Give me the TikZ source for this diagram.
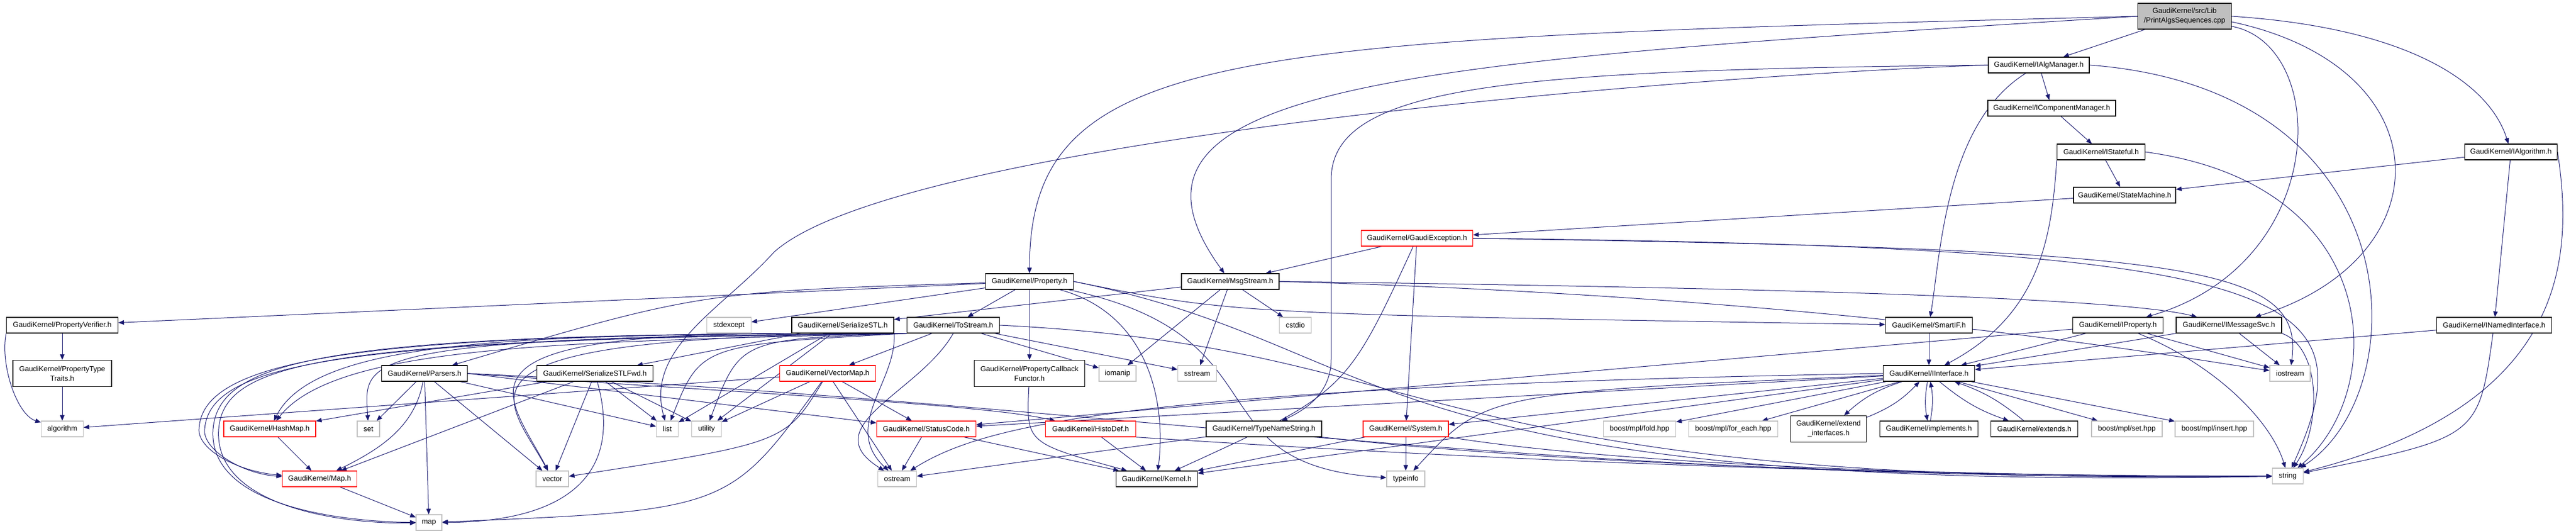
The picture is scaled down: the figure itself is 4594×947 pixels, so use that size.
\documentclass[tikz,border=0pt]{standalone}
\usepackage{fontspec}
\setmainfont{Liberation Sans}
\usepackage{xcolor}
\usepackage{tikz}
\usetikzlibrary{arrows.meta,backgrounds}
\definecolor{depblue}{HTML}{191970}
\definecolor{boxgray}{HTML}{BFBFBF}

\begin{document}
\begin{tikzpicture}[x=0.5pt, y=-0.5pt,
    file/.style={draw=black, fill=white, line width=0.6pt, inner xsep=3pt, inner ysep=1pt, minimum height=14pt, align=center, font=\fontsize{6.5}{8.5}\selectfont},
    sysfile/.style={file, draw=boxgray},
    redfile/.style={file, draw=red},
    dep/.style={draw=depblue, line width=0.5pt, -{Triangle[length=5pt,width=4pt]}}]
    \useasboundingbox (0,0) rectangle (4594,947);

    % Top chain
    \node[file, fill=boxgray, minimum width=83.5pt, minimum height=23pt] (root) at (3896,29) {GaudiKernel/src/Lib\\/PrintAlgsSequences.cpp};
    \node[file, minimum width=90pt] (algmgr) at (3636,116) {GaudiKernel/IAlgManager.h};
    \node[file, minimum width=114pt] (compmgr) at (3659,193) {GaudiKernel/IComponentManager.h};
    \node[file, minimum width=78.5pt] (stateful) at (3747,271) {GaudiKernel/IStateful.h};
    \node[file, minimum width=82.5pt] (ialgo) at (4478,271) {GaudiKernel/IAlgorithm.h};
    \node[file, minimum width=91pt] (statemach) at (3789,348) {GaudiKernel/StateMachine.h};
    \node[redfile, minimum width=99.5pt] (gaudiexc) at (2527,425) {GaudiKernel/GaudiException.h};
    \node[file, minimum width=78.5pt] (property) at (1836,502) {GaudiKernel/Property.h};
    \node[file, minimum width=87pt] (msgstream) at (2194,502) {GaudiKernel/MsgStream.h};

    % Row 1
    \node[file, minimum width=99.5pt] (propverif) at (111,580) {GaudiKernel/PropertyVerifier.h};
    \node[sysfile, minimum width=39.5pt] (stdexcept) at (1300,580) {stdexcept};
    \node[file, minimum width=91pt] (serstl) at (1503,580) {GaudiKernel/SerializeSTL.h};
    \node[file, minimum width=82.5pt] (tostream) at (1700,580) {GaudiKernel/ToStream.h};
    \node[sysfile, minimum width=28.5pt] (cstdio) at (2310,580) {cstdio};
    \node[file, minimum width=77.5pt] (smartif) at (3440,580) {GaudiKernel/SmartIF.h};
    \node[file, minimum width=80.5pt] (iproperty) at (3777,580) {GaudiKernel/IProperty.h};
    \node[file, minimum width=94pt] (imsgsvc) at (3975,580) {GaudiKernel/IMessageSvc.h};
    \node[file, minimum width=102.5pt] (inamed) at (4448,580) {GaudiKernel/INamedInterface.h};

    % Row 2
    \node[file, minimum width=88pt, minimum height=23.5pt] (proptraits) at (111,666) {GaudiKernel/PropertyType\\Traits.h};
    \node[file, minimum width=76.5pt] (parsers) at (757,666) {GaudiKernel/Parsers.h};
    \node[file, minimum width=103.5pt] (serfwd) at (1061,666) {GaudiKernel/SerializeSTLFwd.h};
    \node[redfile, minimum width=85.5pt] (vectormap) at (1476,666) {GaudiKernel/VectorMap.h};
    \node[file, minimum width=98.5pt, minimum height=23.5pt] (propcb) at (1836,666) {GaudiKernel/PropertyCallback\\Functor.h};
    \node[sysfile, minimum width=33pt] (iomanip) at (1993,666) {iomanip};
    \node[sysfile, minimum width=34.5pt] (sstream) at (2135,666) {sstream};
    \node[file, minimum width=81.5pt] (iinterface) at (3440,666) {GaudiKernel/IInterface.h};
    \node[sysfile, minimum width=36pt] (iostream) at (4084,666) {iostream};

    % Row 3
    \node[sysfile, minimum width=37.5pt] (algorithm) at (111,765) {algorithm};
    \node[redfile, minimum width=82pt] (hashmap) at (481,765) {GaudiKernel/HashMap.h};
    \node[sysfile, minimum width=20pt] (stdset) at (657,765) {set};
    \node[sysfile, minimum width=19.5pt] (stdlist) at (1190,765) {list};
    \node[sysfile, minimum width=26.5pt] (utility) at (1260,765) {utility};
    \node[redfile, minimum width=88.5pt] (statuscode) at (1652,765) {GaudiKernel/StatusCode.h};
    \node[redfile, minimum width=80.5pt] (histodef) at (1945,765) {GaudiKernel/HistoDef.h};
    \node[file, minimum width=103pt] (typename) at (2254,765) {GaudiKernel/TypeNameString.h};
    \node[redfile, minimum width=76pt] (system) at (2507,765) {GaudiKernel/System.h};
    \node[sysfile, minimum width=64.5pt] (mplfold) at (2924,765) {boost/mpl/fold.hpp};
    \node[sysfile, minimum width=79.5pt] (mplforeach) at (3091,765) {boost/mpl/for\_each.hpp};
    \node[file, minimum width=67.5pt, minimum height=23.5pt] (extendif) at (3261,765) {GaudiKernel/extend\\\_interfaces.h};
    \node[file, minimum width=87.5pt] (implements) at (3440,765) {GaudiKernel/implements.h};
    \node[file, minimum width=77.5pt] (extends) at (3628,765) {GaudiKernel/extends.h};
    \node[sysfile, minimum width=63pt] (mplset) at (3793,765) {boost/mpl/set.hpp};
    \node[sysfile, minimum width=70pt] (mplinsert) at (3949,765) {boost/mpl/insert.hpp};

    % Bottom rows
    \node[redfile, minimum width=66.5pt] (gkmap) at (570,854) {GaudiKernel/Map.h};
    \node[sysfile, minimum width=29pt] (stdvector) at (985,854) {vector};
    \node[sysfile, minimum width=34.5pt] (ostream) at (1600,854) {ostream};
    \node[file, minimum width=72.5pt] (kernel) at (2063,854) {GaudiKernel/Kernel.h};
    \node[sysfile, minimum width=34pt] (typeinfo) at (2507,854) {typeinfo};
    \node[sysfile, minimum width=27.5pt] (stdstring) at (4080,849) {string};
    \node[sysfile, minimum width=23pt] (stdmap) at (765,932) {map};

    \begin{scope}[on background layer]
    % PrintAlgsSequences.cpp
    \draw[dep] (root) -- (algmgr);
    \draw[dep] (root.west) .. controls (2200,70) and (1836,80) .. (property);
    \draw[dep] (root.west) .. controls (2500,110) and (1938,150) .. (msgstream);
    \draw[dep] ([yshift=-9pt]root.east) .. controls (4156,80) and (4156,470) .. (iproperty);
    \draw[dep] ([yshift=-5pt]root.east) .. controls (4360,120) and (4360,460) .. (imsgsvc);
    \draw[dep] (root.east) .. controls (4300,50) and (4440,150) .. (ialgo);

    % IAlgManager.h
    \draw[dep] (algmgr) -- (compmgr);
    \draw[dep] (algmgr) .. controls (3470,220) and (3461,450) .. (smartif);
    \draw[dep] (algmgr.west) .. controls (2700,125) and (2374,150) .. (2374,320) -- (2374,640) .. controls (2374,700) and (2330,730) .. (typename);
    \draw[dep] (algmgr.west) .. controls (3000,135) and (1600,250) .. (1380,450) .. controls (1290,550) and (1150,620) .. (stdlist);
    \draw[dep] (algmgr.east) .. controls (4309,160) and (4309,700) .. (stdstring);

    % IComponentManager.h, IStateful.h, IAlgorithm.h
    \draw[dep] (compmgr) -- (stateful);
    \draw[dep] (stateful) -- (statemach);
    \draw[dep] (stateful.south west) .. controls (3659,420) and (3640,560) .. (iinterface);
    \draw[dep] (stateful.east) .. controls (4258,330) and (4258,700) .. (stdstring);
    \draw[dep] (ialgo) -- (statemach);
    \draw[dep] (ialgo) -- (inamed);
    \draw[dep] (ialgo.east) .. controls (4588,450) and (4588,720) .. (stdstring);
    \draw[dep] (statemach) -- (gaudiexc);

    % GaudiException.h
    \draw[dep] (gaudiexc) -- (msgstream);
    \draw[dep] (gaudiexc) -- (system);
    \draw[dep] (gaudiexc) .. controls (2400,700) .. (kernel);
    \draw[dep] (gaudiexc.east) .. controls (4100,440) and (4230,520) .. (stdstring);
    \draw[dep] (gaudiexc.east) .. controls (3900,445) and (4110,470) .. (iostream);

    % Property.h
    \draw[dep] (property) -- (propverif);
    \draw[dep] (property) -- (stdexcept);
    \draw[dep] (property) .. controls (1250,520) .. (parsers);
    \draw[dep] (property) -- (tostream);
    \draw[dep] (property) -- (propcb);
    \draw[dep] (property) .. controls (2050,560) and (2080,720) .. (kernel);
    \draw[dep] (property.east) .. controls (2200,560) .. (smartif);
    \draw[dep] (property) .. controls (2300,600) and (2120,830) .. (typeinfo);
    \draw[dep] (property.east) .. controls (2500,620) and (2400,880) .. (stdstring);

    % MsgStream.h
    \draw[dep] (msgstream) -- (serstl);
    \draw[dep] (msgstream) -- (iomanip);
    \draw[dep] (msgstream) -- (sstream);
    \draw[dep] (msgstream) -- (cstdio);
    \draw[dep] (msgstream.east) .. controls (3300,515) and (3800,535) .. (imsgsvc);
    \draw[dep] (msgstream.east) .. controls (3300,530) and (3900,640) .. (iostream);

    % PropertyVerifier.h
    \draw[dep] (propverif) -- (proptraits);
    \draw[dep] (propverif.south west) .. controls (0,650) and (30,740) .. (algorithm);
    \draw[dep] (proptraits) -- (algorithm);

    % SerializeSTL.h
    \draw[dep] (serstl) -- (serfwd);
    \draw[dep] (serstl.south west) .. controls (900,600) and (560,610) .. (hashmap);
    \draw[dep] (serstl.south west) .. controls (650,600) and (360,640) .. (355,765) .. controls (352,800) and (420,840) .. (gkmap);
    \draw[dep] (serstl.south west) .. controls (600,600) and (390,640) .. (380,765) .. controls (370,900) and (600,930) .. (stdmap);
    \draw[dep] (serstl.south west) .. controls (780,595) and (905,700) .. (stdvector);
    \draw[dep] (serstl) -- (stdlist);
    \draw[dep] (serstl) -- (utility);
    \draw[dep] (serstl.south east) .. controls (1600,680) and (1500,760) .. (ostream);

    % ToStream.h
    \draw[dep] (tostream) -- (vectormap);
    \draw[dep] (tostream.south west) .. controls (1000,610) and (600,615) .. (hashmap);
    \draw[dep] (tostream.south west) .. controls (650,605) and (375,640) .. (365,765) .. controls (360,800) and (430,845) .. (gkmap);
    \draw[dep] (tostream.south west) .. controls (600,605) and (400,640) .. (390,765) .. controls (380,900) and (600,935) .. (stdmap);
    \draw[dep] (tostream.south west) .. controls (760,600) and (900,700) .. (stdvector);
    \draw[dep] (tostream.south west) .. controls (1250,615) .. (stdlist);
    \draw[dep] (tostream.south west) .. controls (620,600) and (650,640) .. (stdset);
    \draw[dep] (tostream.south west) .. controls (1320,605) .. (utility);
    \draw[dep] (tostream) -- (iomanip);
    \draw[dep] (tostream) -- (sstream);
    \draw[dep] (tostream.south) .. controls (1640,700) and (1450,760) .. (ostream);
    \draw[dep] (tostream.east) .. controls (2600,620) and (2500,870) .. (stdstring);

    % Parsers.h
    \draw[dep] (parsers) -- (stdset);
    \draw[dep] (parsers) .. controls (740,760) and (680,800) .. (gkmap);
    \draw[dep] (parsers) -- (stdmap);
    \draw[dep] (parsers) -- (stdvector);
    \draw[dep] (parsers) -- (stdlist);
    \draw[dep] (parsers.east) -- (statuscode);
    \draw[dep] (parsers.east) .. controls (1300,700) and (1750,720) .. (histodef);
    \draw[dep] (parsers.east) .. controls (2000,720) and (2700,860) .. (stdstring);

    % SerializeSTLFwd.h
    \draw[dep] (serfwd) -- (hashmap);
    \draw[dep] (serfwd) -- (gkmap);
    \draw[dep] (serfwd) .. controls (1110,840) and (1020,930) .. (stdmap);
    \draw[dep] (serfwd) -- (stdvector);
    \draw[dep] (serfwd) -- (stdlist);
    \draw[dep] (serfwd) -- (utility);

    % VectorMap.h
    \draw[dep] (vectormap) -- (algorithm);
    \draw[dep] (vectormap) -- (utility);
    \draw[dep] (vectormap) .. controls (1400,790) .. (stdvector);
    \draw[dep] (vectormap) .. controls (1300,910) .. (stdmap);
    \draw[dep] (vectormap) -- (ostream);
    \draw[dep] (vectormap) -- (statuscode);

    % Small headers
    \draw[dep] (hashmap) -- (gkmap);
    \draw[dep] (gkmap) -- (stdmap);
    \draw[dep] (propcb) .. controls (1830,790) .. (kernel);
    \draw[dep] (smartif) -- (iinterface);
    \draw[dep] (statuscode) -- (ostream);
    \draw[dep] (statuscode) -- (kernel);
    \draw[dep] (histodef) -- (kernel);
    \draw[dep] (histodef.south east) .. controls (2800,830) and (3500,850) .. (stdstring);
    \draw[dep] (typename) -- (ostream);
    \draw[dep] (typename.south east) .. controls (2800,830) and (3500,850) .. (stdstring);
    \draw[dep] (system) -- (kernel);
    \draw[dep] (system) -- (typeinfo);
    \draw[dep] (system.south east) .. controls (2900,830) and (3500,850) .. (stdstring);

    % Interfaces
    \draw[dep] (iproperty) -- (iinterface);
    \draw[dep] (iproperty) -- (iostream);
    \draw[dep] (iproperty) .. controls (3950,650) and (4050,750) .. (stdstring);
    \draw[dep] (iproperty) -- (statuscode);
    \draw[dep] (imsgsvc.south west) -- (iinterface);
    \draw[dep] (imsgsvc) -- (iostream);
    \draw[dep] (imsgsvc.south east) .. controls (4140,620) and (4140,760) .. (stdstring);
    \draw[dep] (inamed) -- (iinterface);
    \draw[dep] (inamed) .. controls (4420,780) .. (stdstring);

    % IInterface.h
    \draw[dep] (iinterface) -- (kernel);
    \draw[dep] (iinterface) -- (system);
    \draw[dep] (iinterface) -- (statuscode);
    \draw[dep] (iinterface.west) .. controls (2000,690) and (1750,760) .. (ostream);
    \draw[dep] (iinterface) .. controls (2650,700) .. (typeinfo);
    \draw[dep] (iinterface) -- (mplfold);
    \draw[dep] (iinterface) -- (mplforeach);
    \draw[dep] (iinterface) to[bend right=12] (extendif);
    \draw[dep] (extendif) to[bend right=12] (iinterface);
    \draw[dep] (iinterface) to[bend right=10] (implements);
    \draw[dep] (implements) to[bend right=10] (iinterface);
    \draw[dep] (iinterface) to[bend right=10] (extends);
    \draw[dep] (extends) to[bend right=10] (iinterface);
    \draw[dep] (iinterface) -- (mplset);
    \draw[dep] (iinterface) -- (mplinsert);
    \end{scope}
\end{tikzpicture}
\end{document}
